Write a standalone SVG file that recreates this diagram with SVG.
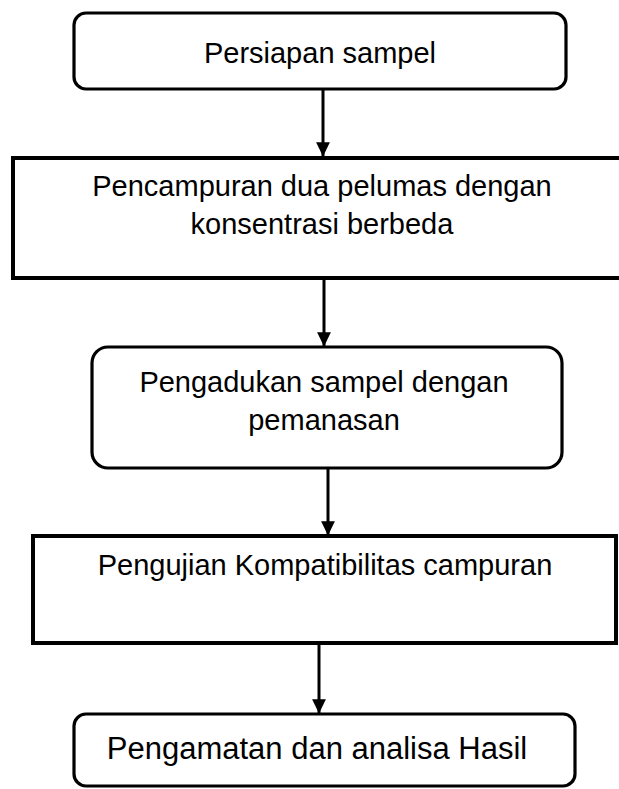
<svg xmlns="http://www.w3.org/2000/svg" width="619" height="789" viewBox="0 0 619 789">
<style>
.box{fill:#fff;stroke:#000;stroke-width:4}
.rbox{fill:#fff;stroke:#000;stroke-width:3.2}
.t{font-family:"Liberation Sans",Arial,Helvetica,sans-serif;font-size:29px;fill:#000;text-anchor:middle}
.c{stroke:#000;stroke-width:3;fill:none;marker-end:url(#ah)}
</style>
<defs>
<marker id="ah" markerWidth="5" markerHeight="5" refX="4.6" refY="2.5" orient="auto" markerUnits="strokeWidth">
<path d="M0,0.2 L4.8,2.5 L0,4.8 Z" fill="#000"/>
</marker>
</defs>
<rect width="619" height="789" fill="#fff"/>
<g id="connectors">
<line class="c" x1="323" y1="89" x2="323" y2="156"/>
<line class="c" x1="324" y1="278" x2="324" y2="346"/>
<line class="c" x1="328" y1="468" x2="328" y2="535"/>
<line class="c" x1="319" y1="643" x2="319" y2="713"/>
</g>
<g id="node1">
<rect class="rbox" x="74" y="13" width="492" height="76" rx="12"/>
<text class="t" x="320" y="63">Persiapan sampel</text>
</g>
<g id="node2">
<rect class="box" x="13" y="158" width="612" height="120"/>
<text class="t" x="322" y="196">Pencampuran dua pelumas dengan</text>
<text class="t" x="322" y="234">konsentrasi berbeda</text>
</g>
<g id="node3">
<rect class="rbox" x="92" y="347" width="470" height="121" rx="16"/>
<text class="t" x="324" y="392">Pengadukan sampel dengan</text>
<text class="t" x="324" y="430">pemanasan</text>
</g>
<g id="node4">
<rect class="box" x="33" y="536" width="583" height="107"/>
<text class="t" x="325" y="575">Pengujian Kompatibilitas campuran</text>
</g>
<g id="node5">
<rect class="rbox" x="74" y="714" width="501" height="72" rx="12"/>
<text class="t" x="317" y="759" style="font-size:31px">Pengamatan dan analisa Hasil</text>
</g>
</svg>
